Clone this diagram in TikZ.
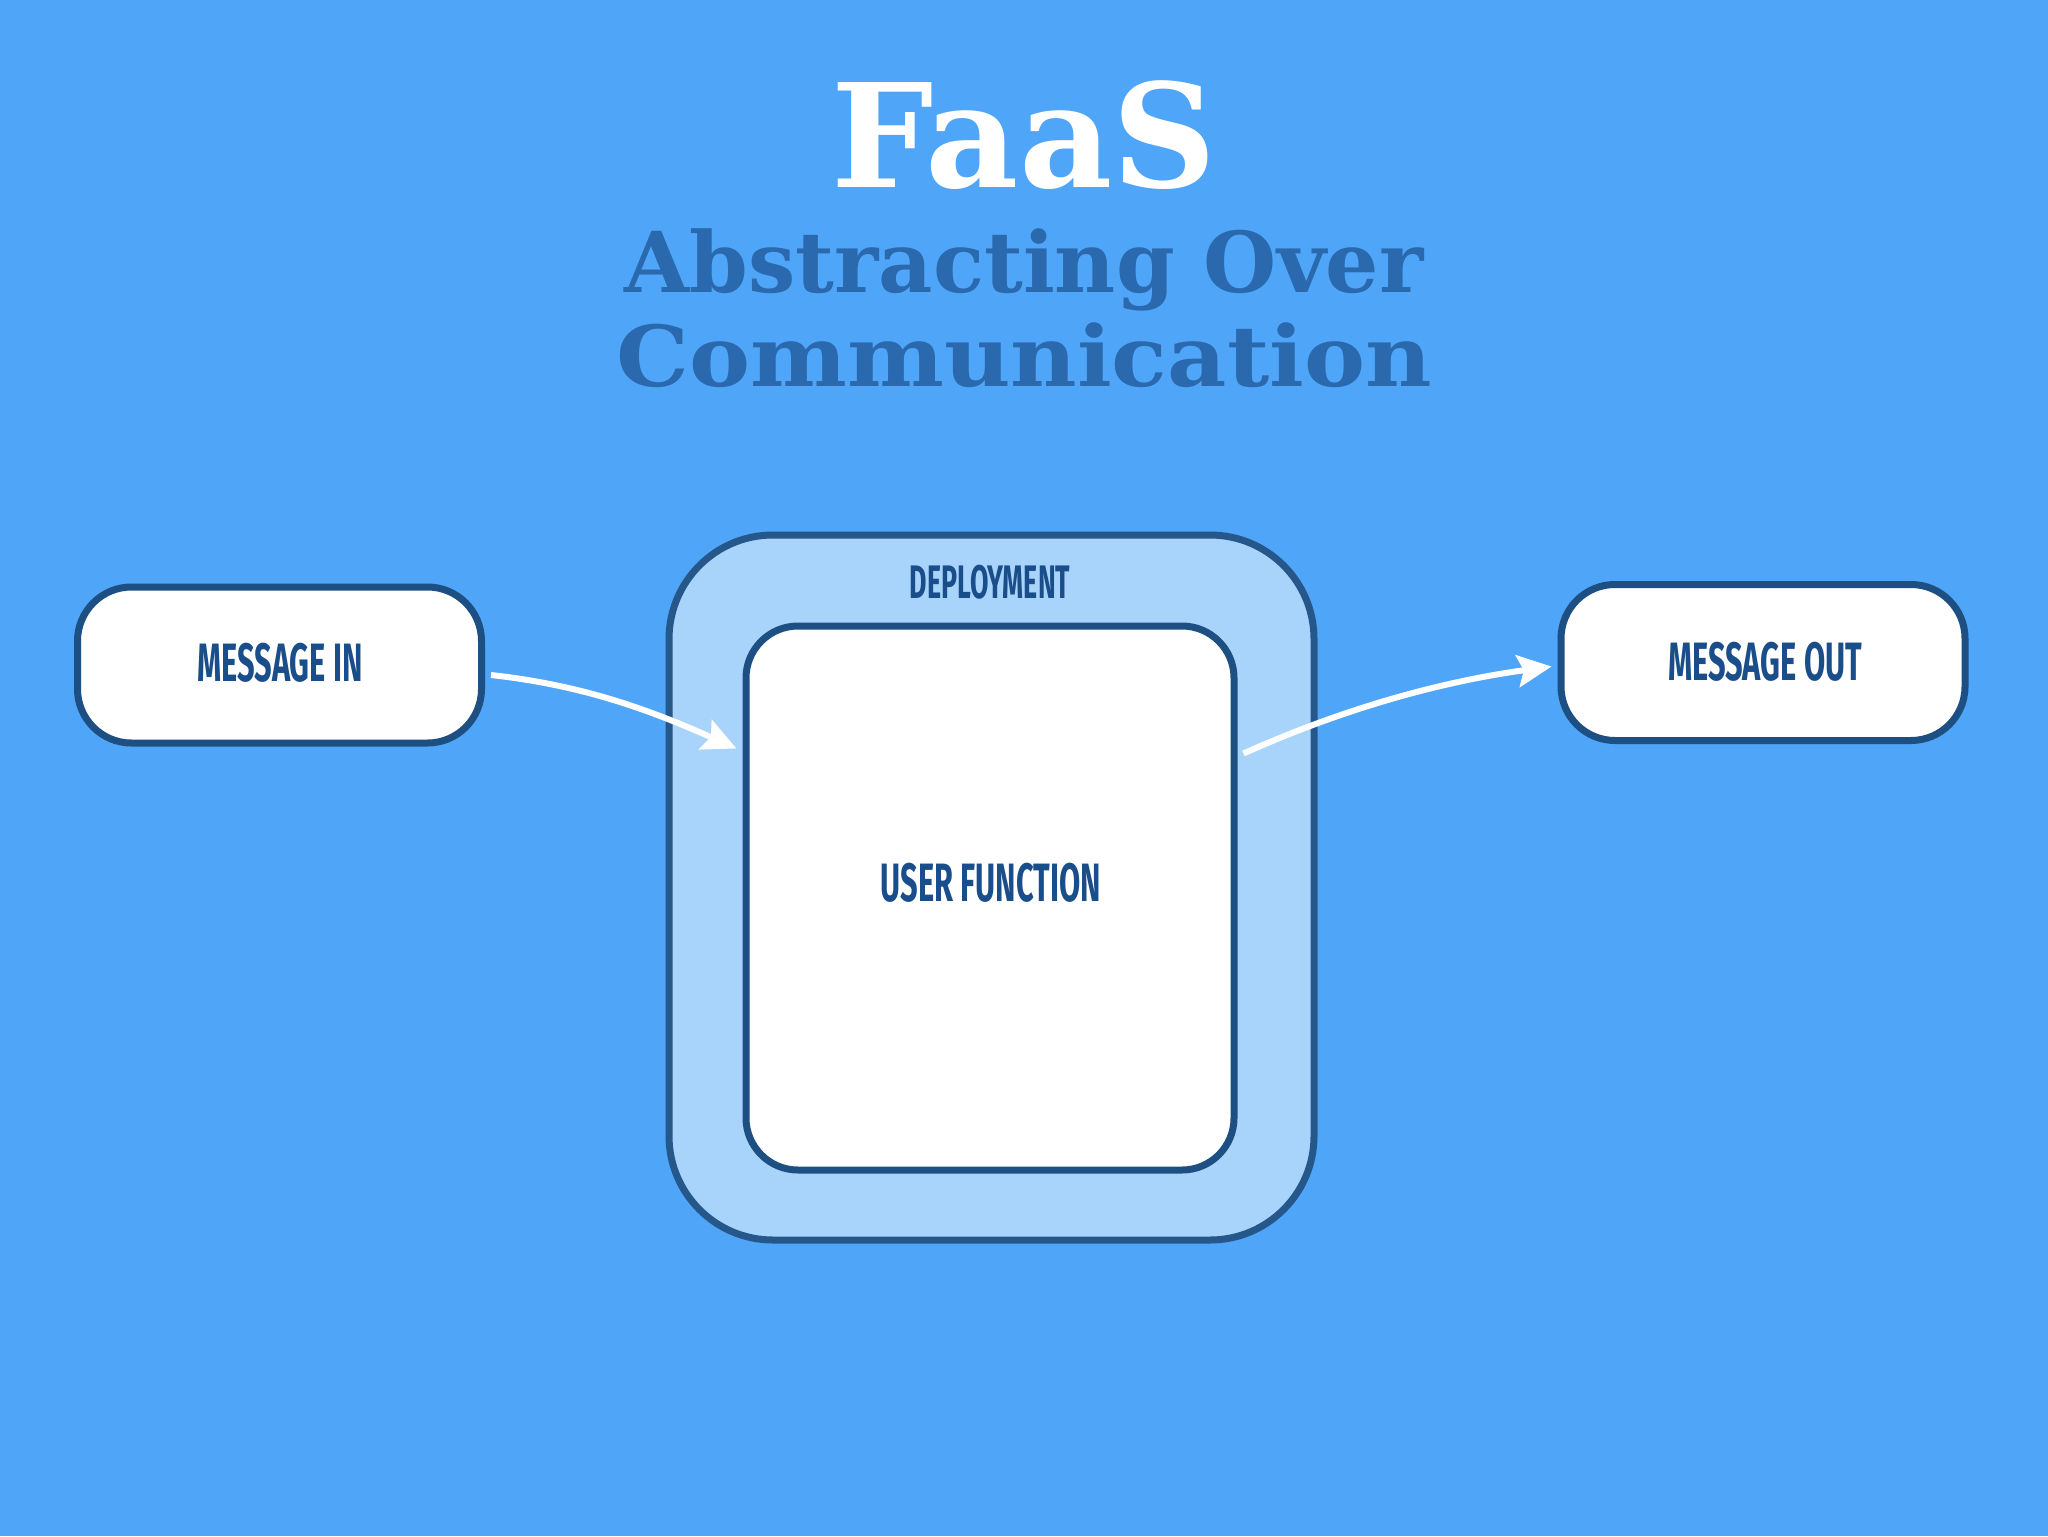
\documentclass[tikz,border=0pt]{standalone}
\usepackage{fontspec}
\usetikzlibrary{arrows.meta,calc}
\newfontfamily\labfont[FakeStretch=0.57]{Fira Sans}
\newfontfamily\titlefont{DejaVu Serif}
\definecolor{bg}{HTML}{4FA5F8}
\definecolor{lightfill}{HTML}{A8D3FB}
\definecolor{darkline}{HTML}{1E4F82}
\definecolor{outerline}{HTML}{26578A}
\definecolor{labtext}{HTML}{1A4E8A}
\definecolor{subtitle}{HTML}{2A69AE}
\tikzset{
  msgbox/.style={draw=darkline, line width=3.5pt, fill=white, rounded corners=27pt,
    minimum width=202pt, minimum height=78pt, inner sep=0pt},
  outerbox/.style={draw=outerline, line width=3.5pt, fill=lightfill, rounded corners=52pt,
    minimum width=322.5pt, minimum height=352.5pt, inner sep=0pt},
  innerbox/.style={draw=darkline, line width=3.5pt, fill=white, rounded corners=26pt,
    minimum width=244pt, minimum height=272pt, inner sep=0pt},
  lab/.style={text=labtext, font=\labfont\bfseries\fontsize{27}{27}\selectfont, inner sep=0pt},
  smalllab/.style={text=labtext, font=\labfont\bfseries\fontsize{23.5}{23.5}\selectfont, inner sep=0pt},
  flow/.style={draw=white, line width=3pt, -{Stealth[length=17pt,width=16pt,inset=3pt,fill=white]}},
}
\begin{document}
\begin{tikzpicture}[x=0.5pt,y=-0.5pt]
\fill[bg] (0,0) rectangle (2048,1536);
\useasboundingbox (0,0) rectangle (2048,1536);
% title
\node[text=white, font=\titlefont\bfseries\fontsize{72}{72}\selectfont, inner sep=0pt] (faas) at (1024,135) {FaaS};
\node[text=subtitle, font=\titlefont\bfseries\fontsize{42}{42}\selectfont, inner sep=0pt] (sub1) at (1024,270) {Abstracting Over};
\node[text=subtitle, font=\titlefont\bfseries\fontsize{42}{42}\selectfont, inner sep=0pt] (sub2) at (1024,355) {\scalebox{1.09}[1]{Communication}};
% boxes
\node[outerbox] (dep) at (991.5,887.5) {};
\node[innerbox] (uf) at (990,898) {};
\node[smalllab] (deplab) at (990,582) {DEPLOYMENT};
\node[lab] (uflab) at (991,883) {USER FUNCTION};
\node[msgbox] (min) at (279.5,665) {};
\node[lab] (minlab) at (280,663) {MESSAGE IN};
\node[msgbox] (mout) at (1763,662.5) {};
\node[lab] (moutlab) at (1765,662) {MESSAGE OUT};
% connectors
\coordinate (a1) at ($(min.east)+(6,10)$);
\coordinate (a2) at ($(uf.north west)+(-6,126)$);
\coordinate (b1) at ($(uf.north east)+(6,131)$);
\coordinate (b2) at ($(mout.west)+(-6,4)$);
\draw[flow] (a1) .. controls ($(a1)+(90,10)$) and ($(a2)+(-90,-40)$) .. (a2);
\draw[flow] (b1) .. controls ($(b1)+(100,-45)$) and ($(b2)+(-110,15)$) .. (b2);
\end{tikzpicture}
\end{document}
